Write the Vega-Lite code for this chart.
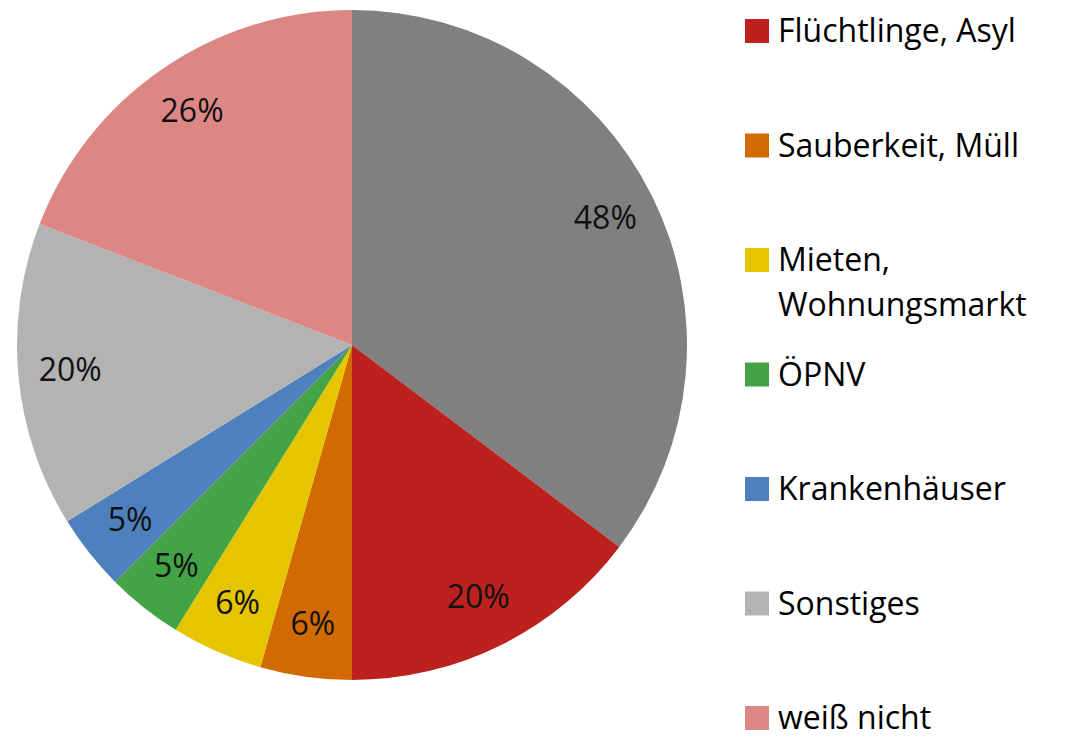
{
  "$schema": "https://vega.github.io/schema/vega-lite/v6.json",
  "padding": {"left": 17, "top": 10, "right": 0, "bottom": 0},
  "autosize": {"type": "pad"},
  "background": "white",
  "config": {"view": {"stroke": null}, "font": "Open Sans", "concat": {"spacing": 58}},
  "datasets": {
    "umfrage": [
      {"kategorie": "ohne Angabe", "anteil": 0.48, "nr": 0, "legende": null},
      {"kategorie": "Flüchtlinge, Asyl", "anteil": 0.20, "nr": 1, "legende": "Flüchtlinge, Asyl"},
      {"kategorie": "Sauberkeit, Müll", "anteil": 0.06, "nr": 2, "legende": "Sauberkeit, Müll"},
      {"kategorie": "Mieten, Wohnungsmarkt", "anteil": 0.06, "nr": 3, "legende": "Mieten,\nWohnungsmarkt"},
      {"kategorie": "ÖPNV", "anteil": 0.05, "nr": 4, "legende": "ÖPNV"},
      {"kategorie": "Krankenhäuser", "anteil": 0.05, "nr": 5, "legende": "Krankenhäuser"},
      {"kategorie": "Sonstiges", "anteil": 0.20, "nr": 6, "legende": "Sonstiges"},
      {"kategorie": "weiß nicht", "anteil": 0.26, "nr": 7, "legende": "weiß nicht"}
    ]
  },
  "hconcat": [
    {
      "width": 670,
      "height": 670,
      "data": {"name": "umfrage"},
      "layer": [
        {
          "mark": {"type": "arc"},
          "encoding": {
            "theta": {"field": "anteil", "type": "quantitative", "stack": true},
            "order": {"field": "nr", "type": "quantitative"},
            "color": {
              "field": "kategorie",
              "type": "nominal",
              "scale": {
                "domain": ["ohne Angabe", "Flüchtlinge, Asyl", "Sauberkeit, Müll", "Mieten, Wohnungsmarkt", "ÖPNV", "Krankenhäuser", "Sonstiges", "weiß nicht"],
                "range": ["#808080", "#BD211D", "#D26A02", "#E5C400", "#43A446", "#4F80BE", "#B3B3B3", "#DD8784"]
              },
              "legend": null
            }
          }
        },
        {
          "mark": {"type": "text", "radius": 283, "fontSize": 32, "color": "#111111", "baseline": "middle", "align": "center"},
          "encoding": {
            "theta": {"field": "anteil", "type": "quantitative", "stack": true},
            "order": {"field": "nr", "type": "quantitative"},
            "text": {"field": "anteil", "type": "quantitative", "format": ".0%"}
          }
        }
      ]
    },
    {
      "width": 24,
      "height": 726,
      "data": {"name": "umfrage"},
      "transform": [{"filter": "datum.legende != null"}],
      "layer": [
        {
          "mark": {"type": "square", "size": 576, "opacity": 1, "filled": true},
          "encoding": {
            "y": {"field": "kategorie", "type": "nominal", "sort": {"field": "nr", "op": "min"}, "scale": {"type": "point", "padding": 0, "range": [21, 708]}, "axis": null},
            "color": {
              "field": "kategorie",
              "type": "nominal",
              "scale": {
                "domain": ["ohne Angabe", "Flüchtlinge, Asyl", "Sauberkeit, Müll", "Mieten, Wohnungsmarkt", "ÖPNV", "Krankenhäuser", "Sonstiges", "weiß nicht"],
                "range": ["#808080", "#BD211D", "#D26A02", "#E5C400", "#43A446", "#4F80BE", "#B3B3B3", "#DD8784"]
              },
              "legend": null
            }
          }
        },
        {
          "mark": {"type": "text", "align": "left", "baseline": "alphabetic", "dx": 21, "dy": 11, "fontSize": 32, "lineBreak": "\n", "lineHeight": 45, "color": "#000000"},
          "encoding": {
            "y": {"field": "kategorie", "type": "nominal", "sort": {"field": "nr", "op": "min"}, "scale": {"type": "point", "padding": 0, "range": [21, 708]}, "axis": null},
            "text": {"field": "legende", "type": "nominal"}
          }
        }
      ]
    }
  ]
}
